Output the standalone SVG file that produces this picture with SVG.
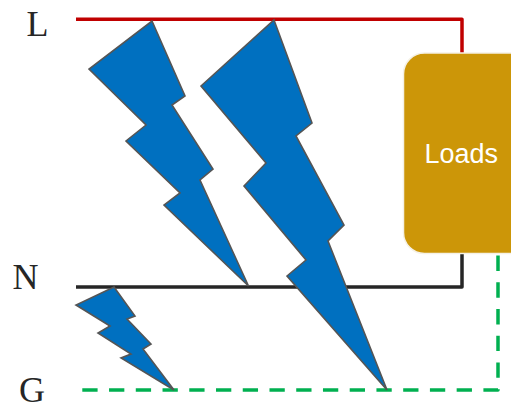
<svg xmlns="http://www.w3.org/2000/svg" width="511" height="405" viewBox="0 0 511 405">
<style>
.w{fill:none;stroke-width:3.5;stroke-linejoin:round}
.b{fill:#0070c0;stroke:#555;stroke-width:1.6;stroke-linejoin:miter}
.t{font-family:"Liberation Serif",serif;font-size:36px;fill:#262626}
</style>
<rect width="511" height="405" fill="#fff"/>
<g id="connectors">
<path class="w" stroke="#c00000" d="M76 19.300H462V54"/>
<path class="w" stroke="#262626" d="M76 287H462V252"/>
<path class="w" stroke="#00b050" stroke-dasharray="15.300 11.440" d="M82.300 390H498V252"/>
</g>
<g id="loads">
<rect x="403.500" y="53" width="130" height="200.500" rx="21" fill="#cc9608" stroke="#f5f1e6" stroke-width="1.500"/>
<text x="424.500" y="163" font-family="'Liberation Sans',sans-serif" font-size="27" fill="#fff">Loads</text>
</g>
<g id="bolt-1"><polygon class="b" points="152,21 185,96 172,105 213,169 200,180 248.500,286 164,205 180,193 126,141 146,125 89,69"/></g>
<g id="bolt-2"><polygon class="b" points="274,20 312,123 296,136 344,225 328,241 387,390 287,276 306,260 244,186 266,163 201,86"/></g>
<g id="bolt-3"><polygon class="b" points="114,287 135,316 127,319 151,344 143,349 174,390 121,358 131,354 98,333 110,326 76,305"/></g>
<g id="label-l"><text class="t" x="26.500" y="36">L</text></g>
<g id="label-n"><text class="t" x="12.500" y="289">N</text></g>
<g id="label-g"><text class="t" x="19" y="402">G</text></g>
</svg>
